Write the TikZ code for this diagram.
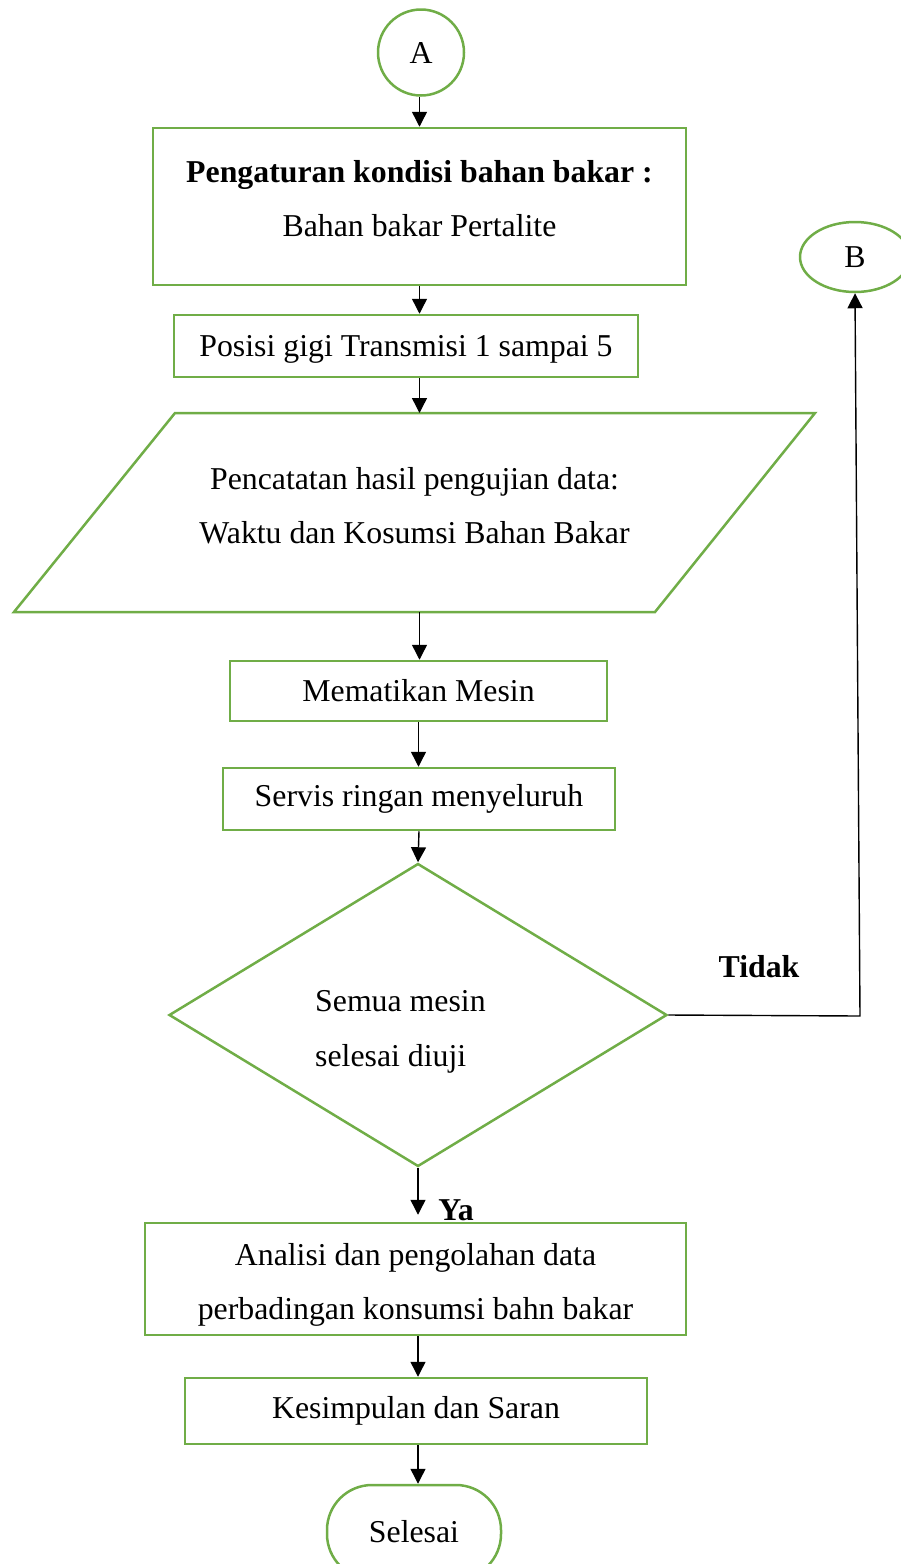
\documentclass[tikz,border=0pt]{standalone}
\usepackage{fontspec}
\setmainfont{Liberation Serif}
\usetikzlibrary{shapes.geometric,arrows.meta}

\definecolor{boxgreen}{RGB}{112,173,71}

\begin{document}
\begin{tikzpicture}[x=1pt,y=-1pt,
  every node/.style={font=\fontsize{31.8}{54.5}\selectfont, inner sep=0pt},
  frame/.style={draw=boxgreen, line width=2.5pt},
  stepbox/.style={frame, rectangle},
  txt/.style={align=center},
  flow/.style={draw=black, line width=1.4pt, -{Triangle[width=15pt,length=15pt]}},
]
\useasboundingbox (0,0) rectangle (901,1564);

% connectors A and B
\node[frame, circle, minimum size=86pt] (A) at (421,52.5) {A};
\node[frame, ellipse, minimum width=110pt, minimum height=70pt] (B) at (855,257) {B};

% process steps
\node[stepbox, minimum width=533pt, minimum height=157pt] (set) at (419.5,206.5) {};
\node[txt] (settxt) at (419.5,198.5) {\textbf{Pengaturan kondisi bahan bakar :}\\Bahan bakar Pertalite};

\node[stepbox, minimum width=464pt, minimum height=62pt] (gear) at (406,346) {};
\node (geartxt) at (406,349) {Posisi gigi Transmisi 1 sampai 5};

% data record (parallelogram)
\coordinate (recNW) at (175,413);
\coordinate (recNE) at (815,413);
\coordinate (recSE) at (655,612);
\coordinate (recSW) at (14,612);
\draw[frame, line join=miter] (recNW) -- (recNE) -- (recSE) -- (recSW) -- cycle;
\coordinate (recN) at (419.5,413);
\coordinate (recS) at (419.5,612);
\node[txt] (rectxt) at (414.5,505.5) {Pencatatan hasil pengujian data:\\Waktu dan Kosumsi Bahan Bakar};

\node[stepbox, minimum width=377pt, minimum height=60pt] (off) at (418.5,691) {Mematikan Mesin};
\node[stepbox, minimum width=392pt, minimum height=62pt] (svc) at (419,799) {Servis ringan menyeluruh};

% decision
\node[frame, diamond, minimum width=498pt, minimum height=303pt] (chk) at (418,1015) {};
\node[align=left, anchor=west] (chktxt) at (315,1032) {Semua mesin\\selesai diuji};
\node[font=\fontsize{31.8}{54.5}\selectfont\bfseries] (no) at (759,967) {Tidak};
\node[font=\fontsize{31.8}{54.5}\selectfont\bfseries] (yes) at (456,1210) {Ya};

\node[stepbox, minimum width=541pt, minimum height=112pt] (ana) at (415.5,1279) {};
\node[txt] (anatxt) at (415.5,1285) {Analisi dan pengolahan data\\perbadingan konsumsi bahn bakar};
\node[stepbox, minimum width=462pt, minimum height=66pt] (con) at (416,1411) {Kesimpulan dan Saran};

\node[frame, rectangle, rounded corners=45pt, minimum width=174pt, minimum height=94pt] (end) at (414,1532) {Selesai};

% flow lines
\draw[flow] (A.south -| set.center) -- (set.north);
\draw[flow] (set.south) -- (set.south |- gear.north);
\draw[flow] (set.center |- gear.south) -- (recN);
\draw[flow] (recS) -- (recS |- off.north);
\draw[flow] (off.south) -- (off.south |- svc.north);
\draw[flow] (svc.south) -- (chk.north);
\draw[flow, shorten >=7pt] (chk.south) -- (chk.south |- ana.north);
\draw[flow] (chk.center |- ana.south) -- (chk.center |- con.north);
\draw[flow] (chk.center |- con.south) -- (chk.center |- end.north);

\coordinate (turn) at (860,1016);
\draw[flow] (chk.east) -- (turn) -- (B.south);
\end{tikzpicture}
\end{document}
